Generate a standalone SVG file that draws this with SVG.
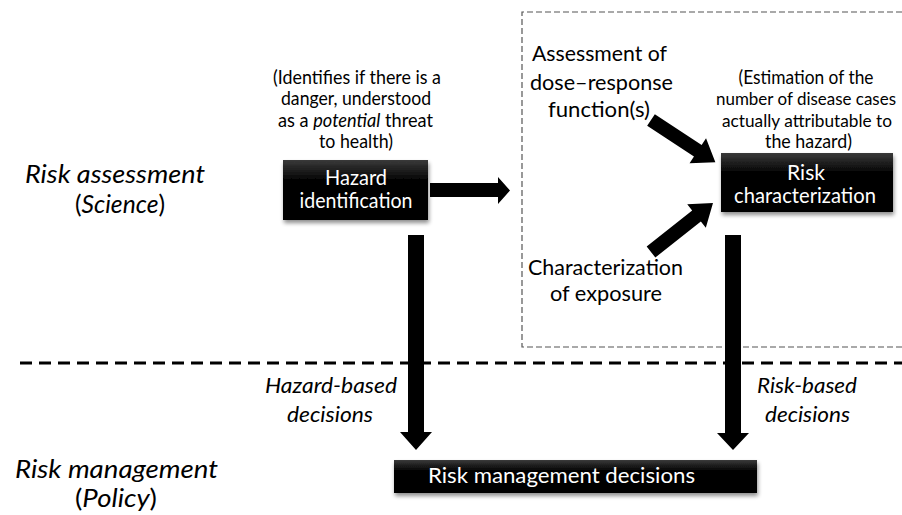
<svg xmlns="http://www.w3.org/2000/svg" width="902" height="515" viewBox="0 0 902 515">
<defs>
<linearGradient id="boxg" x1="0" y1="0" x2="0" y2="1">
<stop offset="0" stop-color="#3a3a3a"/>
<stop offset="0.35" stop-color="#000"/>
<stop offset="1" stop-color="#000"/>
</linearGradient>
<filter id="sh" x="-10%" y="-20%" width="130%" height="160%">
<feGaussianBlur in="SourceAlpha" stdDeviation="2"/>
<feOffset dx="1" dy="3" result="b"/>
<feComponentTransfer><feFuncA type="linear" slope="0.45"/></feComponentTransfer>
<feMerge><feMergeNode/><feMergeNode in="SourceGraphic"/></feMerge>
</filter>
</defs>
<style>
text{font-family:Lato,"Open Sans","Liberation Sans",sans-serif;fill:#000}
.lbl{font-size:22px}
.note{font-size:19px;text-anchor:middle}
.note2{font-size:17.5px;text-anchor:middle}
.side{font-size:25px;font-style:italic}
.dec{font-size:22px;font-style:italic}
.box{fill:url(#boxg);filter:url(#sh)}
.bt{fill:#fff;font-size:21px;text-anchor:middle}
.arr{fill:#000}
</style>
<rect width="902" height="515" fill="#fff"/>
<!-- dashed assessment box (open to the right edge) -->
<path d="M902,12 H522 V347 H902" fill="none" stroke="#555" stroke-width="1.2" stroke-dasharray="6,3"/>
<!-- boundary line -->
<line x1="20" y1="363" x2="902" y2="363" stroke="#000" stroke-width="3" stroke-dasharray="12,7"/>
<g id="side-labels">
<text class="side" x="25" y="183" textLength="180" lengthAdjust="spacingAndGlyphs">Risk assessment</text>
<text class="side" x="75" y="213" textLength="90" lengthAdjust="spacingAndGlyphs"><tspan font-style="normal">(</tspan>Science<tspan font-style="normal">)</tspan></text>
<text class="side" x="15" y="478" textLength="203" lengthAdjust="spacingAndGlyphs">Risk management</text>
<text class="side" x="75" y="507" textLength="82" lengthAdjust="spacingAndGlyphs"><tspan font-style="normal">(</tspan>Policy<tspan font-style="normal">)</tspan></text>
</g>
<g id="hazard-note">
<text class="note" x="357" y="84" textLength="168" lengthAdjust="spacingAndGlyphs">(Identifies if there is a</text>
<text class="note" x="356" y="105" textLength="150" lengthAdjust="spacingAndGlyphs">danger, understood</text>
<text class="note" x="355.5" y="127" textLength="155" lengthAdjust="spacingAndGlyphs">as a <tspan font-style="italic">potential</tspan> threat</text>
<text class="note" x="356" y="148" textLength="74" lengthAdjust="spacingAndGlyphs">to health)</text>
</g>
<g id="hazard-identification">
<rect class="box" x="283" y="160" width="145" height="60"/>
<text class="bt" x="356" y="185" textLength="62" lengthAdjust="spacingAndGlyphs">Hazard</text>
<text class="bt" x="356" y="208" textLength="113" lengthAdjust="spacingAndGlyphs">identification</text>
</g>
<g id="dose-response">
<text class="lbl" x="532" y="61" textLength="135" lengthAdjust="spacingAndGlyphs">Assessment of</text>
<text class="lbl" x="530" y="90" textLength="143" lengthAdjust="spacingAndGlyphs">dose–response</text>
<text class="lbl" x="548" y="117" textLength="102" lengthAdjust="spacingAndGlyphs">function(s)</text>
</g>
<g id="exposure">
<text class="lbl" x="528" y="275" textLength="155" lengthAdjust="spacingAndGlyphs">Characterization</text>
<text class="lbl" x="550" y="301" textLength="112" lengthAdjust="spacingAndGlyphs">of exposure</text>
</g>
<g id="risk-note">
<text class="note" x="806" y="84" textLength="135" lengthAdjust="spacingAndGlyphs">(Estimation of the</text>
<text class="note2" x="806" y="105" textLength="180" lengthAdjust="spacingAndGlyphs">number of disease cases</text>
<text class="note2" x="807" y="127" textLength="170" lengthAdjust="spacingAndGlyphs">actually attributable to</text>
<text class="note" x="808.5" y="148" textLength="87" lengthAdjust="spacingAndGlyphs">the hazard)</text>
</g>
<g id="risk-characterization">
<rect class="box" x="721" y="153" width="172" height="59"/>
<text class="bt" x="806" y="180" textLength="38" lengthAdjust="spacingAndGlyphs">Risk</text>
<text class="bt" x="805" y="203" textLength="142" lengthAdjust="spacingAndGlyphs">characterization</text>
</g>
<g id="decision-labels">
<text class="dec" x="265" y="393" textLength="132" lengthAdjust="spacingAndGlyphs">Hazard-based</text>
<text class="dec" x="287" y="422" textLength="86" lengthAdjust="spacingAndGlyphs">decisions</text>
<text class="dec" x="757" y="393" textLength="100" lengthAdjust="spacingAndGlyphs">Risk-based</text>
<text class="dec" x="765" y="422" textLength="85" lengthAdjust="spacingAndGlyphs">decisions</text>
</g>
<g id="risk-management-decisions">
<rect class="box" x="394" y="460" width="363" height="33"/>
<text class="bt" x="561.5" y="483" font-size="20" textLength="267" lengthAdjust="spacingAndGlyphs">Risk management decisions</text>
</g>
<g id="connectors">
<!-- hazard -> assessment box -->
<polygon class="arr" points="430,183 498,183 498,177 510,190.5 498,204 498,197 430,197"/>
<!-- dose-response -> risk characterization -->
<polygon class="arr" transform="translate(651,120) rotate(33.3)" points="0,-7 56,-7 56,-15 77,0 56,15 56,7 0,7"/>
<!-- exposure -> risk characterization -->
<polygon class="arr" transform="translate(651,252) rotate(-38.3)" points="0,-7 58,-7 58,-15 79,0 58,15 58,7 0,7"/>
<!-- hazard identification -> risk management decisions -->
<polygon class="arr" points="408,235 424,235 424,432 432,432 416,450 400,432 408,432"/>
<!-- risk characterization -> risk management decisions -->
<polygon class="arr" points="725,235 741,235 741,433 749,433 733,450 717,433 725,433"/>
</g>
</svg>
